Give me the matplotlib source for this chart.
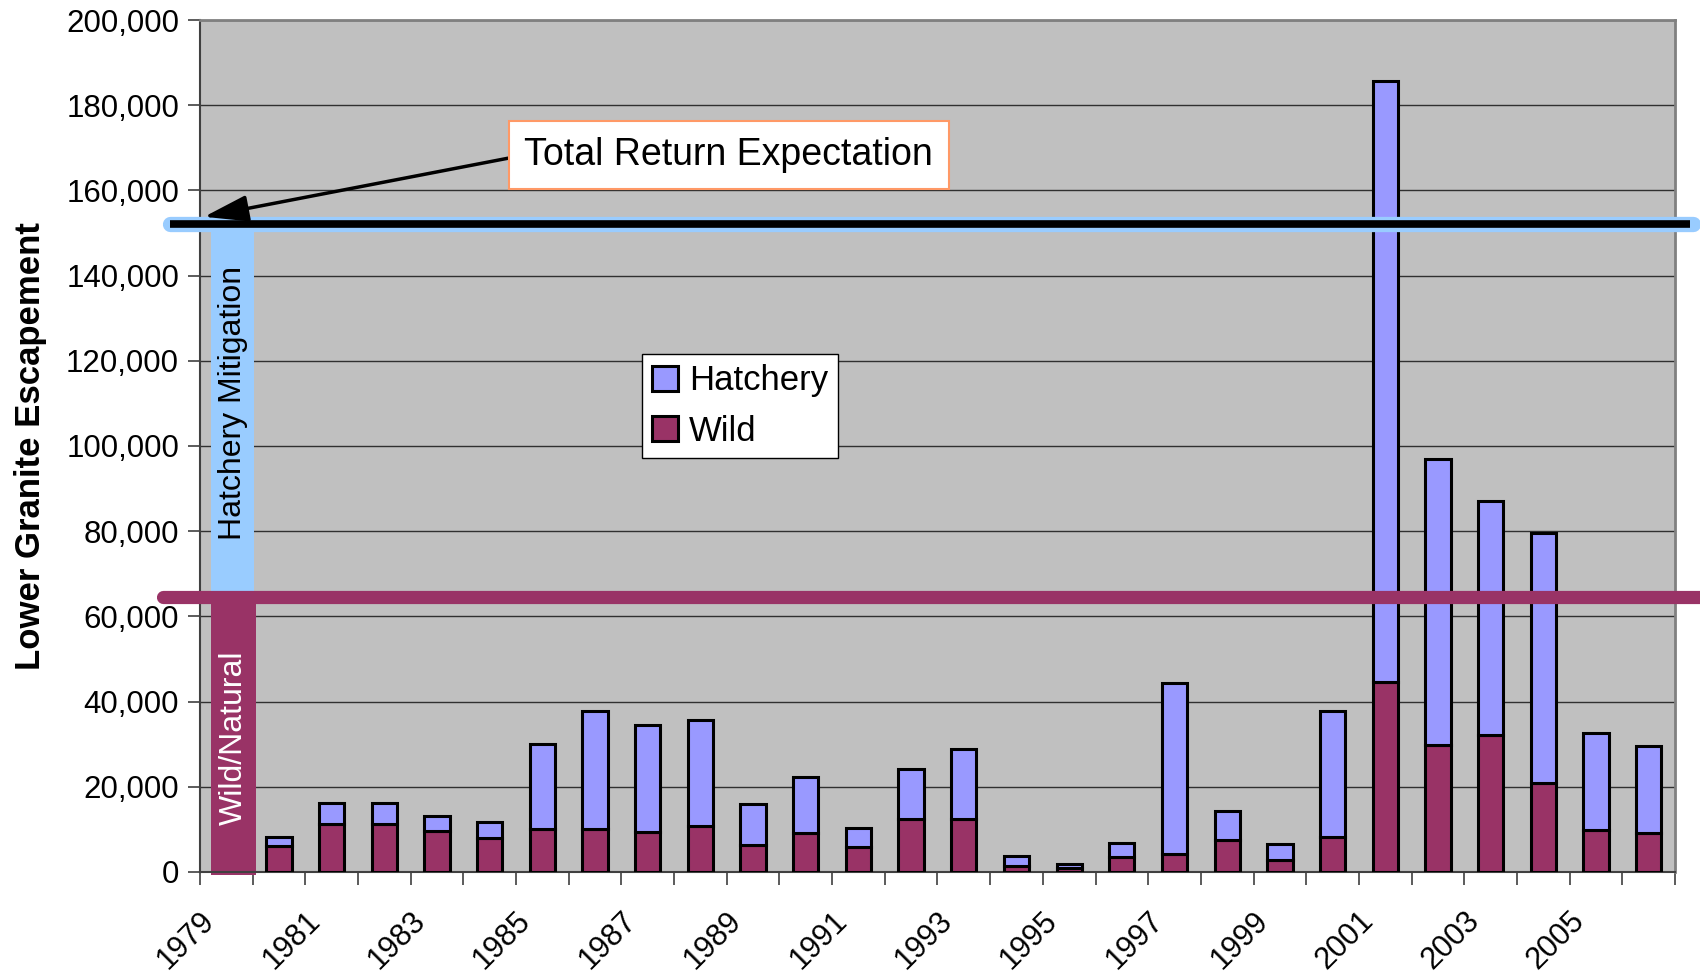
import numpy as np
import matplotlib
matplotlib.use("Agg")
import matplotlib.pyplot as plt
from matplotlib.ticker import FuncFormatter
from matplotlib.transforms import ScaledTranslation

plt.rcParams['font.family'] = ['Liberation Sans', 'DejaVu Sans']

years = list(range(1979, 2007))
# 1979 has no bar (legend band sits there)
wild = [0, 6.1, 11.2, 11.2, 9.7, 7.9, 10.0, 10.0, 9.4, 10.7, 6.4, 9.2, 5.9, 12.5,
        12.5, 1.5, 1.0, 3.6, 4.3, 7.4, 2.8, 8.2, 44.6, 29.8, 32.1, 20.9, 9.9, 9.2]
total = [0, 8.2, 16.3, 16.3, 13.2, 11.7, 30.0, 37.7, 34.6, 35.7, 16.0, 22.4, 10.4, 24.2,
         28.8, 3.8, 1.8, 6.9, 44.3, 14.3, 6.6, 37.7, 185.7, 97.0, 87.1, 79.5, 32.6, 29.6]
wild = np.array(wild) * 1000
hatchery = np.array(total) * 1000 - wild

total_goal = 152000
wild_goal = 64600

c_hatch = '#9999FF'
c_wild = '#993366'
c_blue = '#99CCFF'

fig = plt.figure(figsize=(17, 9.76), dpi=100)
ax = fig.add_axes([0.1176, 0.1066, 0.8677, 0.8729])
ax.set_facecolor('#C0C0C0')

x = np.arange(len(years))
xb = x[1:]
ax.bar(xb, wild[1:], width=0.48, color=c_wild, edgecolor='black', linewidth=2.2,
       label='Wild', zorder=3)
ax.bar(xb, hatchery[1:], width=0.48, bottom=wild[1:], color=c_hatch, edgecolor='black',
       linewidth=2.2, label='Hatchery', zorder=3)

ax.set_xlim(-0.5, len(years) - 0.5)
ax.set_ylim(0, 200000)
ax.set_yticks(np.arange(0, 200001, 20000))
ax.yaxis.set_major_formatter(FuncFormatter(lambda v, p: f'{int(v):,}'))
ax.grid(axis='y', color='#303030', linewidth=1.0, zorder=1)
ax.set_axisbelow(True)

# category boundary ticks, labels every other year
ax.set_xticks(np.arange(-0.5, len(years), 1))
ax.set_xticklabels([])
ax.set_xticks(x[::2], minor=True)
ax.set_xticklabels([str(y) for y in years[::2]], minor=True, rotation=45,
                   ha='right', va='center', rotation_mode='anchor', fontsize=22)
ax.tick_params(axis='x', which='major', length=9, width=1.2, color='#404040')
ax.tick_params(axis='x', which='minor', length=0, pad=32)
ax.tick_params(axis='y', length=9, width=1.2, color='#404040', labelsize=22.5, pad=6)
shift = ScaledTranslation(-0.16, 0, fig.dpi_scale_trans)
for lab in ax.get_xticklabels(minor=True):
    lab.set_transform(lab.get_transform() + shift)

for s in ['top', 'right']:
    ax.spines[s].set_color('#808080')
    ax.spines[s].set_linewidth(2)
ax.spines['left'].set_color('#404040')
ax.spines['left'].set_linewidth(1.5)
ax.spines['bottom'].set_color('#404040')
ax.spines['bottom'].set_linewidth(1.5)

ax.set_ylabel('Lower Granite Escapement', fontsize=25, fontweight='bold', labelpad=14)

# left bands
ax.fill_between([-0.29, 0.53], [wild_goal] * 2, [total_goal] * 2, color=c_blue,
                zorder=2, linewidth=0)
ax.fill_between([-0.29, 0.56], [-700] * 2, [wild_goal] * 2, color=c_wild, zorder=2,
                linewidth=0, clip_on=False)
ax.text(0.13, 110000, 'Hatchery Mitigation', rotation=90,
        ha='center', va='center', fontsize=23, color='black', zorder=4)
ax.text(0.14, 31400, 'Wild/Natural', rotation=90, ha='center',
        va='center', fontsize=23, color='white', zorder=4)

# goal lines extending past the axes
trans = ax.get_yaxis_transform()
ax.plot([-0.02, 1.012], [total_goal] * 2, transform=trans, color=c_blue, linewidth=11,
        solid_capstyle='round', clip_on=False, zorder=5)
ax.plot([-0.02, 1.01], [total_goal] * 2, transform=trans, color='black', linewidth=5.5,
        solid_capstyle='butt', clip_on=False, zorder=6)
ax.plot([-0.025, 1.03], [wild_goal] * 2, transform=trans, color=c_wild, linewidth=9.5,
        solid_capstyle='round', clip_on=False, zorder=5)

ax.annotate('Total Return Expectation', xy=(-0.42, 153800), xytext=(9.54, 168300),
            fontsize=27, ha='center', va='center', zorder=7,
            bbox=dict(boxstyle='square,pad=0.42', fc='white', ec='#FF9966', lw=1.5),
            arrowprops=dict(arrowstyle='-|>,head_length=1.0,head_width=0.3',
                            color='black', lw=2.5, shrinkA=0, shrinkB=0,
                            relpos=(0, 0.5)))

handles, labels = ax.get_legend_handles_labels()
leg = ax.legend(handles[::-1], labels[::-1], loc='upper left',
                bbox_to_anchor=(0.2997, 0.608), fontsize=25, frameon=True,
                fancybox=False, edgecolor='black', framealpha=1, handlelength=0.75,
                handleheight=0.75, handletextpad=0.3, borderpad=0.3, labelspacing=0.5,
                borderaxespad=0)
leg.get_frame().set_linewidth(1.0)
leg.set_zorder(8)

fig.savefig('out.png', dpi=100)
